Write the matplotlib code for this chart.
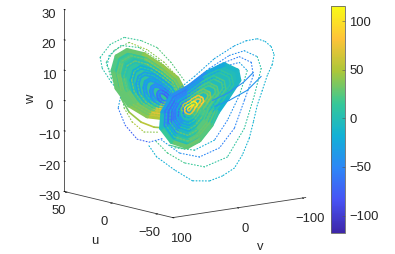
import matplotlib
matplotlib.use("Agg")
import matplotlib.pyplot as plt
from matplotlib.colors import LinearSegmentedColormap, Normalize
from matplotlib.cm import ScalarMappable
from mpl_toolkits.mplot3d.art3d import Line3DCollection, Poly3DCollection
import numpy as np

plt.rcParams['font.family'] = ['Liberation Sans', 'DejaVu Sans']
TXT = '#262626'

parula_colors = [(0.2422,0.1504,0.6603),(0.2810,0.3228,0.9579),(0.1786,0.5289,0.9682),
                 (0.0689,0.6948,0.8394),(0.2161,0.7843,0.5923),(0.6720,0.7793,0.2227),
                 (0.9970,0.7659,0.2199),(0.9769,0.9839,0.0805)]
parula = LinearSegmentedColormap.from_list('parula', parula_colors)

u_left = 30
u_right = -40
color_range = (-118, 115.5)
u_ticks = [-50, 0, 50]
v_ticks = [-100, 0, 100]
w_ticks = [-30, -20, -10, 0, 10, 20, 30]
color_ticks = [-100, -50, 0, 50, 100]

# dense part of the left lobe, outside to inside
left_v = [
 [35,9,-19,-42,-54,-45,-22,4,32,51,57,51],
 [29,6,-18,-38,-49,-41,-21,2,27,43,48,43],
 [23,4,-18,-35,-44,-37,-20,0,21,35,40,35],
 [14,-2,-20,-35,-43,-37,-22,-5,12,24,28,24],
 [8,-6,-20,-32,-39,-34,-22,-8,6,16,19,16],
 [0,-11,-22,-31,-36,-32,-23,-13,-2,6,8,6],
 [-8,-16,-23,-30,-33,-31,-24,-17,-9,-4,-2,-4],
 [-16,-20,-25,-28,-30,-29,-25,-21,-17,-14,-13,-14],
]
left_w = [
 [16.1,13.9,9.1,4.4,-.6,-5.6,-8.1,-6.6,-2.1,4.1,10.2,14.6],
 [14.1,12.2,8,3.8,-.6,-5,-7.2,-5.8,-1.9,3.6,8.9,12.8],
 [12.2,10.5,6.8,3.3,-.5,-4.3,-6.2,-5.1,-1.7,3,7.7,11],
 [9.8,8.4,5.3,2.3,-.9,-4.1,-5.7,-4.7,-1.9,2.1,6,8.8],
 [7.5,6.4,3.9,1.4,-1.2,-3.8,-5.1,-4.3,-1.9,1.3,4.5,6.7],
 [5.3,4.4,2.5,.6,-1.4,-3.4,-4.4,-3.8,-2,.5,2.9,4.7],
 [3.1,2.5,1.1,-.2,-1.6,-3,-3.7,-3.3,-2,-.3,1.4,2.7],
 [.8,.5,-.3,-1,-1.8,-2.6,-3,-2.8,-2.1,-1.1,-.1,.6],
]
left_c = [
 [30,40,42,38,50,60,50,38,28,28,22,28],
 [12,25,32,28,50,68,60,32,28,32,28,18],
 [0,5,15,18,48,75,70,32,30,20,5,0],
 [-20,-15,-10,0,40,75,65,25,10,-10,-20,-20],
 [-32,-32,-28,-18,20,60,50,15,-8,-28,-32,-32],
 [-35,-40,-42,-38,5,40,30,0,-25,-40,-40,-35],
 [-48,-52,-60,-58,-30,5,0,-25,-42,-52,-52,-48],
 [-60,-70,-75,-75,-68,-48,-52,-60,-65,-65,-60,-60],
]

# sparse outer orbits of the left lobe
left_outer_v = [
 [-52.7,-32.7,-11.2,13.4,39.5,61,76.5,73.4,59.5,44.2,48.8,38,19.6,1.1,-22],
 [-45,-22,4.2,31.9,55,67.2,59.5,44.2,39.5,27.2,8.8,-14.3],
 [-42,-14.3,16.5,44.2,62.6,65.7,55],
]
left_outer_w = [
 [3.4,9.9,15.5,18.6,20.5,18.9,15.1,11.4,6.4,1.9,-2.5,-8.5,-13.7,-15.3,-14.7],
 [4.2,10.3,15.3,18.6,16.7,13.2,7.7,2.6,-2.8,-7.8,-11.7,-12.5],
 [4.3,11.1,16.4,18,15.3,12.1,6.9],
]
left_outer_c = [
 [25,25,20,15,15,10,5,5,-5,-30,-60,-75,-75,-60,-40],
 [40,40,45,30,20,15,15,25,40,50,40,25],
 [35,30,15,5,-5,15,30],
]
left_band_v = [44.2,31.9,13.4,-6.6,-29.7]
left_band_w = [.6,-4.4,-8.3,-10.6,-11.7]
left_band_c = [30,45,55,45,30]

# dense part of the right lobe, outside to inside
right_v = [
 [-17,-37,-40,-22,-7,3,21,40,64,80,78,64,37,9],
 [-9,-26,-29,-13,0,8,24,39,60,73,72,60,37,13],
 [-1,-15,-17,-4,6,13,26,39,56,67,66,56,37,17],
 [7,-4,-6,5,13,18,28,38,52,60,59,52,37,21],
 [15,7,6,13,19,23,30,38,48,54,53,48,37,26],
 [23,18,17,22,26,28,33,37,44,47,47,44,37,30],
 [30,28,27,30,31,33,35,37,40,42,42,40,37,33],
]
right_w = [
 [14.8,12.1,8.8,3.5,-.6,-4.6,-8.9,-10.6,-8.1,-3.1,2.1,6.9,9.3,13],
 [12.9,10.6,7.8,3.3,-.2,-3.6,-7.3,-8.7,-6.6,-2.3,2.1,6.2,8.2,11.4],
 [11,9.1,6.8,3.1,.2,-2.6,-5.6,-6.8,-5,-1.5,2.1,5.5,7.1,9.7],
 [9.1,7.6,5.8,2.9,.6,-1.6,-3.9,-4.9,-3.5,-.8,2.1,4.7,6.1,8.1],
 [7.2,6.1,4.8,2.7,1,-.6,-2.3,-3,-2,0,2.1,4,5,6.5],
 [5.3,4.6,3.8,2.5,1.4,.4,-.7,-1.1,-.5,.8,2.1,3.3,3.9,4.8],
 [3.6,3.3,2.9,2.3,1.8,1.3,.8,.6,.9,1.5,2.1,2.7,3,3.4],
]
right_c = [
 [-10,-8,-8,-15,5,25,30,28,15,-5,-30,-45,-45,-25],
 [10,10,10,5,25,30,24,10,-20,-55,-60,-60,-30,0],
 [20,20,20,15,25,25,12,-5,-38,-65,-65,-52,-5,12],
 [25,25,25,25,18,8,-5,-22,-50,-60,-48,-20,12,20],
 [30,38,38,30,18,3,-15,-30,-38,-30,-15,12,25,30],
 [80,85,85,70,50,30,15,5,5,15,35,60,75,75],
 [100,105,105,95,85,75,70,65,70,80,90,100,105,105],
]

# sparse outer orbits of the right lobe
right_outer_v = [
 [52,28.9,-1.9,-32.6,-51,-68,-80.3,-89.5,-94,-91,-83.4,-75.7,-68,-61.9,-55.7,-44.9,-32.6,-14.2,5.8,32,59.7,87.3,99],
 [36.6,5.8,-25,-48,-68,-74,-63.4,-48,-21.9,13.5,44.3,70.4,90.4],
 [21.2,-9.6,-40.3,-58.8,-61.9,-48,-32.6,-9.6,21.2,52,79.6],
 [13.5,-17.2,-40.3,-52.6,-40.3,-21.9,-1.9,28.9,59.7],
]
right_outer_w = [
 [9.1,12.3,17.2,20.4,21.5,21.6,20.3,18.3,15.5,12.3,9,4.3,-.3,-5.7,-10.8,-16,-19.9,-21.9,-22.9,-22,-17.5,-12.3,-8.3],
 [9.9,14.2,17.5,18.3,15.7,11.6,3,-7.3,-15.9,-18,-15.7,-11.6,-6.6],
 [11.4,15,16.6,14.1,9.7,1.9,-6.8,-12.5,-14.5,-12.2,-7],
 [11.1,14.1,14.7,11.6,3.8,-3.8,-9.7,-12,-10.2],
]
right_outer_c = [
 [-25,-30,-30,-25,-22,-20,-18,-15,-15,-15,-15,-15,-15,-15,-15,-15,-15,-15,-15,-20,-20,-15,-5],
 [-50,-50,-45,-30,5,10,10,10,10,15,20,20,15],
 [-55,-55,-55,-55,-50,-50,-55,-50,-45,-35,-25],
 [-55,-50,-30,10,-40,-50,-20,10,20],
]

# tight arcs on the right lobe's lower edge
right_arc_v = [[-1.9,-25,-52.6,-74],[1.2,-21.9,-46.5,-61.9],[-6.5,2.7,21.2,44.3,67.3]]
right_arc_w = [[1.4,2.7,5.1,9],[3.5,5.1,7.9,10.7],[0,-5.3,-9.6,-11.1,-9.1]]
right_arc_c = [[-40,-40,-40,-40],[-45,-45,-45,-45],[20,22,25,20,10]]

norm = Normalize(*color_range)
fig = plt.figure(figsize=(3.95, 2.54), dpi=100)
ax = fig.add_axes([-0.0155, 0.079, 0.95, 1.0], projection='3d', proj_type='ortho')
ax.computed_zorder = False
ax.set_box_aspect((1.0, 0.97, 1.06), zoom=1.17)
ax.view_init(elev=11, azim=141.6)


def draw(u, v, w, c, closed, lw, ls, z):
    v = list(v); w = list(w); c = list(c)
    if closed:
        v.append(v[0]); w.append(w[0]); c.append(c[0])
    pts = [(u, a, b) for a, b in zip(v, w)]
    segs = [[pts[i], pts[i + 1]] for i in range(len(pts) - 1)]
    col = Line3DCollection(segs, cmap=parula, norm=norm, linewidths=lw,
                           linestyles=ls, capstyle='round', zorder=z)
    col.set_array(np.array(c[:-1], float))
    ax.add_collection3d(col)


def backing(u, v, w, c, z):
    poly = Poly3DCollection([[(u, a, b) for a, b in zip(v, w)]],
                            facecolors=[parula(norm(np.mean(c)))], edgecolors='none', zorder=z)
    ax.add_collection3d(poly)


DOT = (0, (0.8, 2.0))
SPECK = (0, (1.2, 1.2))
z = 1
for a, b, c in zip(left_outer_v, left_outer_w, left_outer_c):
    draw(u_left, a, b, c, False, 0.8, DOT, z); z += 1
draw(u_left, left_band_v, left_band_w, left_band_c, False, 1.2, '-', z); z += 1
backing(u_left, left_v[0], left_w[0], left_c[3], z); z += 1
for a, b, c in zip(left_v, left_w, left_c):
    draw(u_left, a, b, c, True, 3.2, '-', z); z += 1
for i, (a, b) in enumerate(zip(left_v, left_w)):
    draw(u_left, a, b, left_c[max(i - 2, 0)], True, 1.0, SPECK, z); z += 1
for a, b, c in zip(right_outer_v, right_outer_w, right_outer_c):
    draw(u_right, a, b, c, False, 0.8, DOT, z); z += 1
backing(u_right, right_v[0], right_w[0], right_c[3], z); z += 1
for a, b, c in zip(right_v, right_w, right_c):
    draw(u_right, a, b, c, True, 3.2, '-', z); z += 1
for i, (a, b) in enumerate(zip(right_v, right_w)):
    draw(u_right, a, b, right_c[max(i - 2, 0)], True, 1.0, SPECK, z); z += 1
for a, b, c in zip(right_arc_v, right_arc_w, right_arc_c):
    draw(u_right, a, b, c, False, 0.8, '-', z); z += 1

ax.set_xlim(-67, 53)
ax.set_ylim(-105, 100)
ax.set_zlim(-30, 30)
ax.set_xticks(u_ticks)
ax.set_yticks(v_ticks)
ax.set_zticks(w_ticks)
ax.grid(False)


def left_corner_edge(minmax, maxmin, position=None):
    lo = min(minmax[2], maxmin[2])
    hi = max(minmax[2], maxmin[2])
    return np.array([minmax[0], maxmin[1], lo]), np.array([minmax[0], maxmin[1], hi])


ax.zaxis._get_axis_line_edge_points = left_corner_edge
for axis in (ax.xaxis, ax.yaxis, ax.zaxis):
    axis.set_pane_color((1, 1, 1, 0))
    axis.line.set_color('#404040')
    axis.line.set_linewidth(0.6)
    axis._axinfo['tick']['inward_factor'] = 0.12
    axis._axinfo['tick']['outward_factor'] = 0.0
    axis._axinfo['tick']['color'] = '#404040'
    axis._axinfo['tick']['linewidth'] = {True: 0.6, False: 0.4}
ax.tick_params(axis='x', labelsize=9.4, labelcolor=TXT, pad=-2)
ax.tick_params(axis='y', labelsize=9.4, labelcolor=TXT, pad=-1)
ax.tick_params(axis='z', labelsize=9.4, labelcolor=TXT, pad=-2)
ax.set_xlabel('u', fontsize=9.4, color=TXT, labelpad=-4, ha='left')
ax.set_ylabel('v', fontsize=9.4, color=TXT, labelpad=-3)
ax.zaxis.set_rotate_label(False)
ax.set_zlabel('w', fontsize=9.4, color=TXT, rotation=90, labelpad=-8)

cax = fig.add_axes([331 / 395, 21 / 254, 14 / 395, 227 / 254])
sm = ScalarMappable(norm=norm, cmap=parula)
cb = fig.colorbar(sm, cax=cax, ticks=color_ticks)
cb.outline.set_edgecolor('#666666')
cb.outline.set_linewidth(0.6)
cax.tick_params(length=2, width=0.4, direction='in', color='#555555', labelsize=9.4,
                labelcolor=TXT, pad=3)
fig.savefig('out.png', dpi=100)
